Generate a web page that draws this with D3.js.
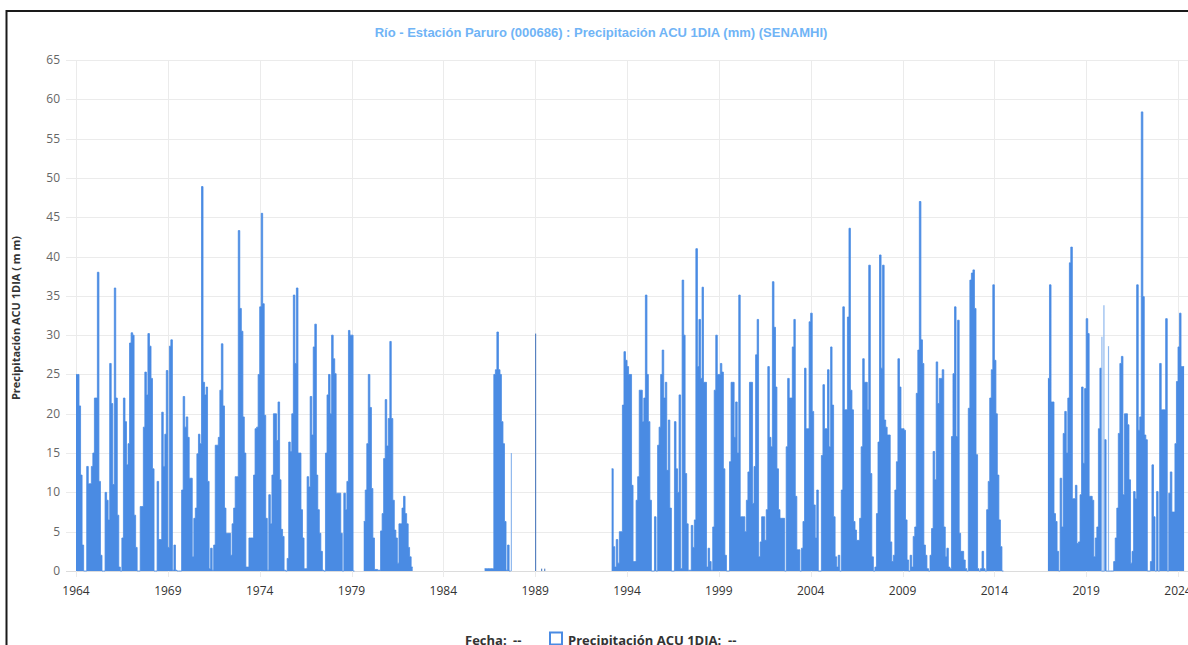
<!DOCTYPE html>
<html>
<head>
<meta charset="utf-8">
<script src="https://cdn.jsdelivr.net/npm/d3@7"></script>
<style>
  html, body { margin: 0; padding: 0; background: #fff; overflow: hidden; }
  svg { display: block; }
</style>
</head>
<body>
<div id="chart"></div>
<script>
// maximos mensuales de precipitacion diaria (mm)
const inicios = ["1964-01", "1979-09", "1986-04", "1993-03", "2016-12"];

const tramo1964 = [
  25, 25, 21, 12.2, 3.3, 0, 0, 13.3, 11.1, 11.1, 13.3, 15,
  22, 22, 38, 11.4, 2, 0, 0, 10, 9, 6.5, 26.4, 21.3,
  11, 36, 22, 7.1, 0.5, 0, 4.2, 22, 19, 13.5, 16.2, 29,
  30.3, 30, 7.1, 3, 0, 0, 8.2, 8.2, 18.3, 25.3, 22.4, 30.2,
  28.6, 24.5, 13, 0, 0, 11.4, 4, 4, 20.2, 13.3, 17.4, 25.5,
  3, 28.6, 29.4, 0.1, 3.3, 0.1, 0, 0, 0, 10.3, 22.2, 18.3,
  19.6, 17, 11.8, 11.8, 1.8, 6.7, 8, 14.9, 17.4, 16.2, 48.9, 24,
  22.4, 23.4, 11.4, 0.3, 2.9, 0.1, 3.3, 16, 16, 17, 23, 28.9,
  21, 8, 4.8, 4.8, 4.8, 2, 6, 8, 12, 12, 43.3, 33.4,
  30.5, 19.6, 15, 0.5, 0.5, 4.2, 4.2, 4.2, 12.2, 18.1, 18.3, 25,
  33.6, 45.5, 34, 19.8, 6.7, 0.1, 9.7, 6, 12.2, 20, 20, 16.6,
  21.5, 11.6, 5.3, 4.4, 0.1, 0, 1.6, 16.4, 15.2, 20, 35.1, 26.4,
  36, 15, 15, 7.8, 4.2, 0.3, 0.3, 12, 10.7, 22.2, 17.3, 28.5,
  31.4, 12.2, 7.8, 4.8, 2.5, 0.1, 0, 15, 22.4, 25, 20, 30,
  27, 25.1, 9.9, 9.9, 9.9, 4.8, 0, 9.9, 7.8, 11.4, 30.6, 30,
  30, 0
];

const tramo1979 = [
  6.3, 10.3, 16.2, 25, 20.8, 10.5, 4.2, 0.2, 0.2, 0.1,
  0.1, 5.1, 7.3, 14.3, 21.8, 15.9, 19.4, 29.2, 19.4, 9,
  5.2, 4.2, 1, 6, 6, 8, 9.5, 7.3, 6, 3,
  1.8, 0.5
];

const tramo1986 = [0.3, 0.3, 0.3, 0.3, 0.3, 0.3, 25, 25.6, 30.4, 25.6, 25, 19, 16.2, 6.3, 0.1, 3.3, 0];

const tramo1993 = [
  13, 3.1, 0.5, 4, 1, 5, 5, 21.1, 27.9, 26.8,
  26, 25, 25, 10.9, 1.2, 1.2, 9, 12, 23, 23,
  19, 22, 35.1, 25, 19, 9, 0, 0, 6.9, 0,
  16, 18.3, 25, 28.1, 22, 24, 12.8, 19.2, 8, 0,
  0, 19, 13, 10, 22.4, 0.3, 37, 30, 12.4, 6,
  0.1, 0.1, 5.8, 3, 6.5, 41, 26, 32, 24.5, 36.1,
  24, 24, 0.5, 2.9, 1.2, 0.1, 5.6, 23, 30, 25,
  25, 26.4, 25.3, 13, 2, 0, 0, 13.9, 24, 24,
  17, 21.5, 15, 35.1, 6.9, 6.9, 6.9, 5, 9, 12.6,
  24, 24, 8.6, 13.3, 27.5, 32, 1.8, 3.7, 6.9, 6.9,
  3.9, 7.8, 26, 17, 15.8, 36.8, 31, 23.4, 13, 7.8,
  6.7, 6.7, 6.7, 0, 15.8, 24.5, 22, 22, 28.5, 32,
  9.5, 2.7, 2.7, 0, 2.9, 6.3, 25.8, 18.1, 18.1, 31.7,
  32.8, 20.3, 8.4, 4.2, 10.3, 0, 0, 14.7, 23.7, 18.1,
  18.1, 25.6, 15.8, 28.5, 21.1, 6.9, 1.8, 0.5, 2, 0,
  10.3, 33.6, 20.5, 20.5, 32.3, 43.6, 23, 20.5, 6.3, 5.2,
  3.9, 3.9, 6.7, 15.8, 27, 24, 24, 20.5, 38.9, 12.4,
  1.8, 0, 0.5, 7.3, 16.4, 40.2, 25.8, 38.9, 19.2, 18.3,
  17.3, 17.3, 3.7, 1.2, 2, 10.3, 13.9, 27, 23.4, 18.1,
  18.1, 17.9, 6.5, 1.4, 0, 2, 0.5, 4.4, 5.6, 22.6,
  28.1, 47, 29.4, 26.4, 3.3, 2, 0.3, 0, 2, 5.4,
  15.2, 11.6, 26.6, 21.3, 24.5, 24.5, 25.6, 5.6, 1.8, 2.9,
  0.5, 0.3, 17.1, 25.1, 33.6, 17.1, 31.9, 4.8, 2.5, 2.5,
  1.4, 0.3, 0, 20.7, 37, 37.9, 38.3, 33.4, 14.8, 0.3,
  0, 0.3, 2.5, 0.3, 0, 7.8, 11.4, 22, 25.6, 36.4,
  26.8, 20, 12.2, 6.5, 3.1, 0
];

const tramo2016 = [
  24.5, 36.4, 21.5, 21.5, 7.3, 6.3, 2.5, 0, 11.8, 5.6,
  17.5, 20.3, 15, 22, 39.2, 41.2, 9.2, 9.2, 10.9, 3.5,
  3.7, 9.7, 23.4, 13.7, 23.2, 32.1, 30.2, 9.5, 9.5, 9,
  1.8, 4.2, 5.6, 18.1, 25.8, 0, 0, 16.7, 0, 0,
  0, 0, 0, 1.2, 4.2, 8, 17.5, 26.4, 27.3, 9.7,
  20, 20, 18.6, 11.6, 1, 2.5, 10.1, 9.2, 36.4, 17.9,
  19.6, 58.4, 34.9, 17.3, 16.7, 0, 0, 1.2, 13.5, 6.9,
  0, 10.1, 0, 26.4, 20.5, 20.5, 20.5, 32.1, 0, 9.9,
  12.6, 7.5, 7.5, 16.2, 24.1, 28.5, 32.8, 26, 26
];

// dias sueltos (barras finas)
const diasClaros = [["1987-09-15", 15], ["2019-11-10", 29.8], ["2019-12-20", 33.8], ["2020-03-20", 28.6]];
const diasOscuros = [["1989-01-10", 30.2], ["1989-05-10", 0.3], ["1989-07-10", 0.3]];

const aniosEje = [1964, 1969, 1974, 1979, 1984, 1989, 1994, 1999, 2004, 2009, 2014, 2019, 2024];
const ticksY = d3.range(0, 66, 5);

const titulo = "Río - Estación Paruro (000686) : Precipitación ACU 1DIA (mm) (SENAMHI)";
const tituloY = "Precipitación ACU 1DIA ( m m)";
const azul = "#4a8be3";

const width = 1188, height = 645;
const svg = d3.select("#chart").append("svg")
  .attr("width", width).attr("height", height);

const x = d3.scaleTime()
  .domain([new Date(1964, 0, 1), new Date(2024, 0, 1)])
  .range([76, 1178]);
const y = d3.scaleLinear().domain([0, 65]).range([571, 60]);

// marco
svg.append("rect")
  .attr("x", 6.5).attr("y", 11)
  .attr("width", 1400).attr("height", 800)
  .attr("fill", "none").attr("stroke", "#1a1a1a").attr("stroke-width", 2);

// grilla
svg.append("g").selectAll("line")
  .data(ticksY).enter().append("line")
  .attr("x1", 66).attr("x2", width)
  .attr("y1", d => Math.round(y(d)) + 0.5).attr("y2", d => Math.round(y(d)) + 0.5)
  .attr("stroke", d => d === 0 ? "#dcdcdc" : "#ebebeb").attr("stroke-width", 1);

svg.append("g").selectAll("line")
  .data(aniosEje).enter().append("line")
  .attr("x1", d => Math.round(x(new Date(d, 0, 1))) + 0.5)
  .attr("x2", d => Math.round(x(new Date(d, 0, 1))) + 0.5)
  .attr("y1", 60).attr("y2", 577)
  .attr("stroke", "#ebebeb").attr("stroke-width", 1);

// etiquetas de ejes
svg.append("g").selectAll("text")
  .data(ticksY).enter().append("text")
  .attr("x", 60).attr("y", d => y(d) + 4)
  .attr("text-anchor", "end")
  .attr("font-family", "'Open Sans', sans-serif").attr("font-size", 12)
  .attr("fill", "#666")
  .text(d => d);

svg.append("g").selectAll("text")
  .data(aniosEje).enter().append("text")
  .attr("x", d => x(new Date(d, 0, 1))).attr("y", 595)
  .attr("text-anchor", "middle")
  .attr("font-family", "'Open Sans', sans-serif").attr("font-size", 12)
  .attr("fill", "#333")
  .text(d => d);

// series
const parseMes = d3.timeParse("%Y-%m");
const tramos = [tramo1964, tramo1979, tramo1986, tramo1993, tramo2016].map((vals, i) => {
  const t0 = parseMes(inicios[i]);
  const pts = vals.map((v, k) => ({ fecha: d3.timeMonth.offset(t0, k), valor: v }));
  pts.push({ fecha: d3.timeMonth.offset(t0, vals.length), valor: vals[vals.length - 1] });
  return pts;
});

const area = d3.area()
  .curve(d3.curveStepAfter)
  .x(d => x(d.fecha))
  .y0(y(0))
  .y1(d => y(d.valor));

const linea = d3.line()
  .curve(d3.curveStepAfter)
  .x(d => x(d.fecha))
  .y(d => y(d.valor));

const gSerie = svg.append("g");
gSerie.selectAll(".area").data(tramos).enter().append("path")
  .attr("d", area).attr("fill", azul);
gSerie.selectAll(".borde").data(tramos).enter().append("path")
  .attr("d", linea).attr("fill", "none").attr("stroke", azul).attr("stroke-width", 0.8);

const parseDia = d3.timeParse("%Y-%m-%d");
gSerie.selectAll(".claro").data(diasClaros).enter().append("line")
  .attr("x1", d => x(parseDia(d[0]))).attr("x2", d => x(parseDia(d[0])))
  .attr("y1", y(0)).attr("y2", d => y(d[1]))
  .attr("stroke", "#8fb8ee").attr("stroke-width", 1.2);
gSerie.selectAll(".oscuro").data(diasOscuros).enter().append("line")
  .attr("x1", d => x(parseDia(d[0]))).attr("x2", d => x(parseDia(d[0])))
  .attr("y1", y(0)).attr("y2", d => y(d[1]))
  .attr("stroke", "#3d6fb8").attr("stroke-width", 1);

// titulos
svg.append("text")
  .attr("x", 601).attr("y", 37)
  .attr("text-anchor", "middle")
  .attr("font-family", "'Liberation Sans', Arial, sans-serif").attr("font-size", 13).attr("font-weight", 700)
  .attr("fill", "#70b4f6")
  .text(titulo);

svg.append("text")
  .attr("transform", "translate(20,318) rotate(-90)")
  .attr("text-anchor", "middle")
  .attr("font-family", "'Open Sans', sans-serif").attr("font-size", 11).attr("font-weight", 700)
  .attr("fill", "#333")
  .text(tituloY);

// leyenda
const gLey = svg.append("g")
  .attr("font-family", "'Open Sans', sans-serif").attr("font-size", 13).attr("font-weight", 700)
  .attr("fill", "#333");
gLey.append("text").attr("x", 465).attr("y", 645).text("Fecha:");
gLey.append("text").attr("x", 513).attr("y", 645).text("--");
gLey.append("rect")
  .attr("x", 550).attr("y", 632.5).attr("width", 12).attr("height", 12)
  .attr("fill", "none").attr("stroke", azul).attr("stroke-width", 2);
gLey.append("text").attr("x", 568).attr("y", 645).text("Precipitación ACU 1DIA:");
gLey.append("text").attr("x", 728).attr("y", 645).text("--");
</script>
</body>
</html>
